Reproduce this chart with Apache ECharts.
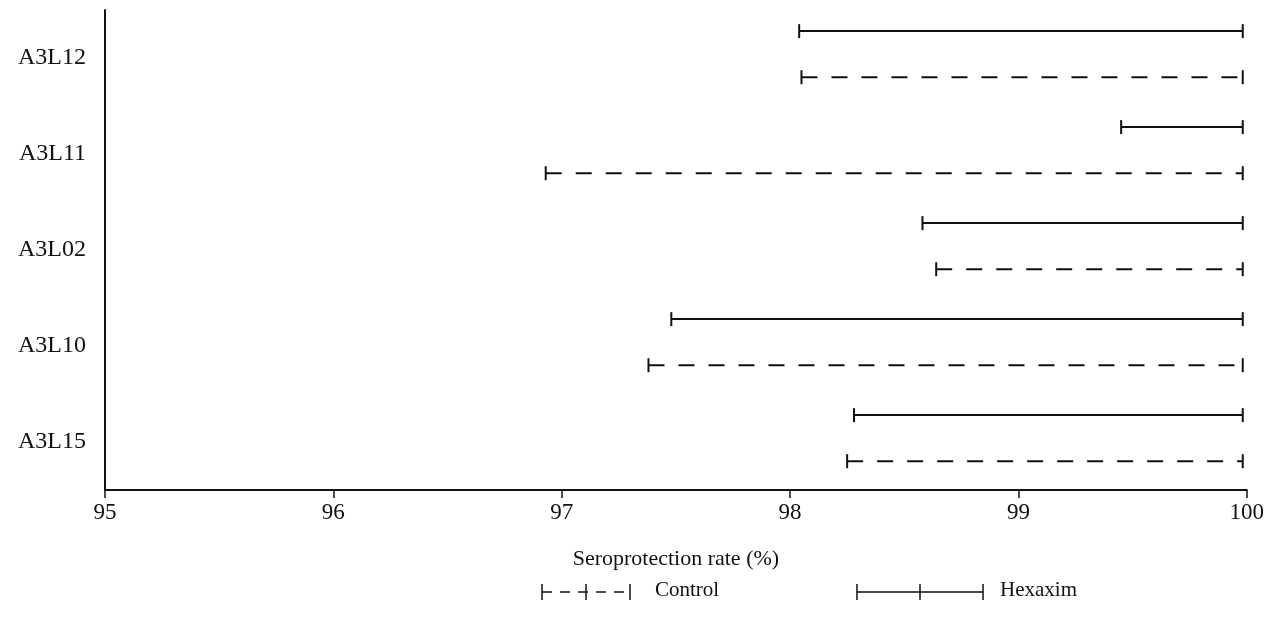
<!DOCTYPE html>
<html>
<head>
<meta charset="utf-8">
<script src="https://cdn.jsdelivr.net/npm/echarts@6/dist/echarts.min.js"></script>
<style>
html,body{margin:0;padding:0;background:#fff;}
#chart{width:1267px;height:618px;}
</style>
</head>
<body>
<div id="chart"></div>
<script>
const categories = ['A3L12', 'A3L11', 'A3L02', 'A3L10', 'A3L15'];
const hexaximLow  = [98.04, 99.45, 98.58, 97.48, 98.28];
const hexaximHigh = [100, 100, 100, 100, 100];
const controlLow  = [98.05, 96.93, 98.64, 97.38, 98.25];
const controlHigh = [100, 100, 100, 100, 100];
const xTicks = [95, 96, 97, 98, 99, 100];

const FONT = '"Liberation Serif", "Times New Roman", serif';
const INK = '#111';

function build(lows, highs) {
  return categories.map((c, i) => [i, lows[i], highs[i]]);
}

function makeRender(offsetFrac, dashed) {
  return function (params, api) {
    const cat = api.value(0);
    const lo = api.value(1);
    const hi = api.value(2);
    const p1 = api.coord([lo, cat]);
    const p2 = api.coord([hi, cat]);
    const band = api.size([0, 1])[1];
    const y = p1[1] + offsetFrac * band;
    const cap = 7;
    return {
      type: 'group',
      children: [
        { type: 'line', shape: { x1: p1[0], y1: y, x2: p2[0] - 4, y2: y },
          style: { stroke: INK, lineWidth: 2, lineDash: dashed ? [16, 14] : null } },
        { type: 'line', shape: { x1: p1[0], y1: y - cap, x2: p1[0], y2: y + cap },
          style: { stroke: INK, lineWidth: 2 } },
        { type: 'line', shape: { x1: p2[0] - 4, y1: y - cap, x2: p2[0] - 4, y2: y + cap },
          style: { stroke: INK, lineWidth: 2 } }
      ]
    };
  };
}

const chart = echarts.init(document.getElementById('chart'), null, { renderer: 'canvas' });

const legendY = 592;
const option = {
  backgroundColor: '#fff',
  animation: false,
  grid: { left: 105, right: 19, top: 10, bottom: 128, containLabel: false },
  xAxis: {
    type: 'value',
    min: xTicks[0],
    max: xTicks[xTicks.length - 1],
    interval: 1,
    name: 'Seroprotection rate (%)',
    nameLocation: 'middle',
    nameGap: 58,
    nameTextStyle: { fontFamily: FONT, fontSize: 22, color: INK },
    axisLine: { show: true, lineStyle: { color: INK, width: 2 } },
    axisTick: { show: true, length: 8, lineStyle: { color: INK, width: 1.5 } },
    axisLabel: { fontFamily: FONT, fontSize: 23, color: INK, margin: 11,
      formatter: v => String(v) },
    splitLine: { show: false }
  },
  yAxis: {
    type: 'category',
    data: categories,
    inverse: true,
    axisLine: { show: true, lineStyle: { color: INK, width: 2 } },
    axisTick: { show: false },
    axisLabel: { fontFamily: FONT, fontSize: 24, color: INK, margin: 19 },
    splitLine: { show: false }
  },
  series: [
    {
      name: 'Hexaxim',
      type: 'custom',
      renderItem: makeRender(-0.28, false),
      encode: { x: [1, 2], y: 0 },
      data: build(hexaximLow, hexaximHigh)
    },
    {
      name: 'Control',
      type: 'custom',
      renderItem: makeRender(0.2, true),
      encode: { x: [1, 2], y: 0 },
      data: build(controlLow, controlHigh)
    }
  ],
  graphic: [
    // Control legend symbol
    { type: 'line', shape: { x1: 542, y1: legendY, x2: 630, y2: legendY },
      style: { stroke: INK, lineWidth: 1.5, lineDash: [10, 8] } },
    { type: 'line', shape: { x1: 542, y1: legendY - 8, x2: 542, y2: legendY + 8 }, style: { stroke: INK, lineWidth: 1.5 } },
    { type: 'line', shape: { x1: 586, y1: legendY - 8, x2: 586, y2: legendY + 8 }, style: { stroke: INK, lineWidth: 1.5 } },
    { type: 'line', shape: { x1: 630, y1: legendY - 8, x2: 630, y2: legendY + 8 }, style: { stroke: INK, lineWidth: 1.5 } },
    { type: 'text', left: 655, top: legendY - 12,
      style: { text: 'Control', fontFamily: FONT, fontSize: 21, fill: INK } },
    // Hexaxim legend symbol
    { type: 'line', shape: { x1: 857, y1: legendY, x2: 983, y2: legendY },
      style: { stroke: INK, lineWidth: 1.5 } },
    { type: 'line', shape: { x1: 857, y1: legendY - 8, x2: 857, y2: legendY + 8 }, style: { stroke: INK, lineWidth: 1.5 } },
    { type: 'line', shape: { x1: 920, y1: legendY - 8, x2: 920, y2: legendY + 8 }, style: { stroke: INK, lineWidth: 1.5 } },
    { type: 'line', shape: { x1: 983, y1: legendY - 8, x2: 983, y2: legendY + 8 }, style: { stroke: INK, lineWidth: 1.5 } },
    { type: 'text', left: 1000, top: legendY - 12,
      style: { text: 'Hexaxim', fontFamily: FONT, fontSize: 21, fill: INK } }
  ]
};

chart.setOption(option);
</script>
</body>
</html>
